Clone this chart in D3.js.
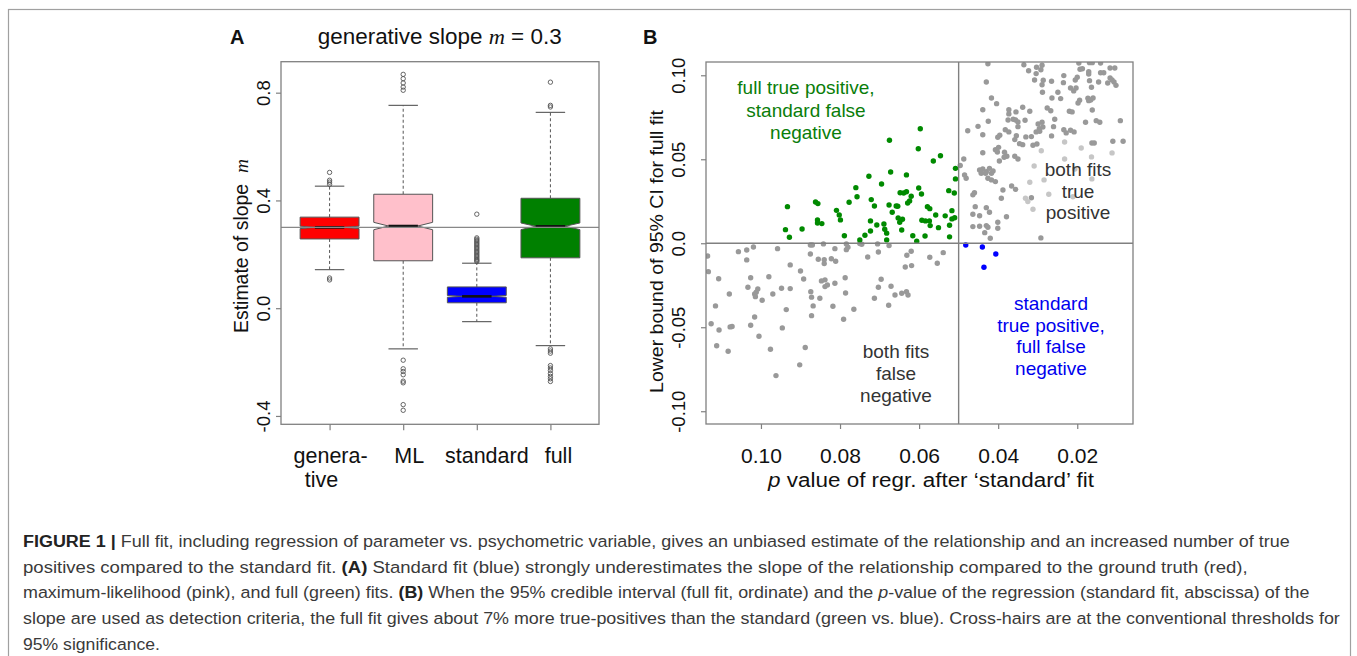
<!DOCTYPE html>
<html><head><meta charset="utf-8">
<script src="https://cdn.jsdelivr.net/npm/d3@7"></script>
<style>body{margin:0;background:#fff} svg{display:block} text{white-space:pre}</style>
</head><body>
<svg id="fig" width="1357" height="656"></svg>
<script>
// ---------------- DATA ----------------
// Panel A: boxplot of slope estimates
const boxCategories = ["genera-\ntive", "ML", "standard", "full"];
const boxLowerWhisker = [0.143, -0.151, -0.050, -0.139];
const boxQ1           = [0.257,  0.176,  0.020,  0.187];
const boxMedian       = [0.300,  0.305,  0.044,  0.304];
const boxQ3           = [0.338,  0.423,  0.079,  0.408];
const boxUpperWhisker = [0.453,  0.753,  0.167,  0.727];
const boxNotchHalf    = [0.0045, 0.0137, 0.0033, 0.0123];
const outliersGenerative = [0.504, 0.475, 0.468, 0.460, 0.112, 0.105];
const outliersML = [0.868, 0.852, 0.836, 0.821, 0.809, -0.193, -0.225, -0.235, -0.247, -0.271, -0.277, -0.358, -0.379];
const outliersStandard = [0.349, 0.261, 0.256, 0.251, 0.246, 0.241, 0.236, 0.231, 0.226, 0.221, 0.216, 0.211, 0.206, 0.201, 0.196, 0.191, 0.186, 0.181, 0.177, 0.173];
const outliersFull = [0.839, 0.753, 0.747, -0.151, -0.159, -0.167, -0.213, -0.222, -0.231, -0.243, -0.253, -0.262, -0.272];
const generativeSlope = 0.3;
const yTicksA = [-0.4, 0.0, 0.4, 0.8];
const yTickLabelsA = ["-0.4", "0.0", "0.4", "0.8"];

// Panel B: [p value of standard fit, lower bound of 95% CI of full fit]
const pThreshold = 0.05;
const ciThreshold = 0.0;
const xTicksB = [0.10, 0.08, 0.06, 0.04, 0.02];
const xTickLabelsB = ["0.10", "0.08", "0.06", "0.04", "0.02"];
const yTicksB = [0.10, 0.05, 0.0, -0.05, -0.10];
const yTickLabelsB = ["0.10", "0.05", "0.0", "-0.05", "-0.10"];

const greenPoints = [
[0.0597,0.0682],[0.0675,0.0613],[0.0602,0.0563],[0.0546,0.0521],[0.0564,0.0490],[0.0508,0.0446],[0.0672,0.0424],[0.0727,0.0399],
[0.0632,0.0407],[0.0508,0.0383],[0.0695,0.0353],[0.0760,0.0331],[0.0601,0.0329],[0.0525,0.0313],[0.0648,0.0301],[0.0639,0.0299],
[0.0632,0.0307],[0.0594,0.0293],[0.0511,0.0299],[0.0757,0.0277],[0.0620,0.0280],[0.0721,0.0260],[0.0777,0.0244],[0.0862,0.0246],
[0.0856,0.0236],[0.0624,0.0252],[0.0629,0.0240],[0.0933,0.0218],[0.0713,0.0222],[0.0676,0.0228],[0.0658,0.0222],[0.0654,0.0220],
[0.0579,0.0218],[0.0573,0.0206],[0.0809,0.0196],[0.0668,0.0185],[0.0517,0.0194],[0.0802,0.0168],[0.0558,0.0168],[0.0534,0.0163],
[0.0653,0.0151],[0.0642,0.0143],[0.0857,0.0139],[0.0799,0.0139],[0.0593,0.0137],[0.0584,0.0133],[0.0574,0.0133],[0.0510,0.0152],
[0.0517,0.0145],[0.0723,0.0133],[0.0857,0.0121],[0.0846,0.0117],[0.0649,0.0125],[0.0689,0.0115],[0.0707,0.0109],[0.0572,0.0105],
[0.0523,0.0107],[0.0938,0.0081],[0.0896,0.0085],[0.0687,0.0083],[0.0644,0.0079],[0.0551,0.0093],[0.0723,0.0073],[0.0682,0.0060],
[0.0928,0.0036],[0.0789,0.0045],[0.0737,0.0048],[0.0616,0.0045],[0.0585,0.0043],[0.0523,0.0038],[0.0750,0.0020],[0.0682,0.0020],
[0.0606,0.0012]
];
const bluePoints = [[0.0482,-0.0010],[0.0440,-0.0022],[0.0406,-0.0064],[0.0436,-0.0143]];
const grayPoints = [
// both fits false negative
[0.1135,-0.0076],[0.1133,-0.0169],[0.1057,-0.0050],[0.1036,-0.0040],[0.1019,-0.0022],[0.1036,-0.0099],[0.0958,-0.0032],[0.0875,-0.0010],
[0.0870,-0.0010],[0.0842,-0.0004],[0.0875,-0.0064],[0.0813,-0.0032],[0.0784,-0.0004],[0.0784,-0.0038],[0.0780,-0.0024],[0.0745,-0.0006],
[0.0750,-0.0002],[0.0705,-0.0004],[0.0676,-0.0014],[0.0703,-0.0052],[0.0730,-0.0082],[0.0855,-0.0095],[0.0840,-0.0098],[0.0840,-0.0121],
[0.0822,-0.0092],[0.0811,-0.0107],[0.0926,-0.0129],[0.0900,-0.0165],[0.0892,-0.0213],[0.0620,-0.0048],[0.0631,-0.0071],[0.0573,-0.0083],
[0.0539,-0.0056],[0.0554,-0.0119],[0.0619,-0.0133],[0.0635,-0.0141],[0.1107,-0.0211],[0.1026,-0.0205],[0.0980,-0.0199],[0.1033,-0.0262],
[0.1008,-0.0272],[0.1012,-0.0292],[0.1016,-0.0302],[0.1014,-0.0318],[0.1080,-0.0302],[0.0997,-0.0339],[0.0970,-0.0302],[0.0948,-0.0268],
[0.0926,-0.0270],[0.0847,-0.0224],[0.0838,-0.0218],[0.0832,-0.0248],[0.0838,-0.0258],[0.0813,-0.0238],[0.0787,-0.0205],[0.0874,-0.0288],
[0.0872,-0.0321],[0.0851,-0.0327],[0.0786,-0.0296],[0.0696,-0.0214],[0.0703,-0.0262],[0.0671,-0.0256],[0.0713,-0.0327],[0.0661,-0.0308],
[0.0644,-0.0298],[0.0632,-0.0288],[0.0628,-0.0308],[0.0677,-0.0369],[0.1115,-0.0373],[0.0868,-0.0373],[0.0818,-0.0375],[0.0765,-0.0393],
[0.0936,-0.0395],[0.1016,-0.0439],[0.0872,-0.0431],[0.0791,-0.0452],[0.1126,-0.0479],[0.1106,-0.0516],[0.1078,-0.0498],[0.1073,-0.0496],
[0.1026,-0.0488],[0.0946,-0.0504],[0.1005,-0.0554],[0.1112,-0.0610],[0.1083,-0.0643],[0.0976,-0.0631],[0.0888,-0.0621],[0.0902,-0.0724],
[0.0962,-0.0788],
// both fits true positive
[0.0426,0.1069],[0.0335,0.1063],[0.0323,0.1027],[0.0303,0.1048],[0.0289,0.1060],[0.0292,0.1033],[0.0304,0.1010],[0.0308,0.0972],
[0.0286,0.0970],[0.0289,0.0944],[0.0265,0.0964],[0.0196,0.1073],[0.0169,0.1075],[0.0162,0.1075],[0.0141,0.1073],[0.0193,0.1036],
[0.0187,0.1039],[0.0171,0.1021],[0.0171,0.1008],[0.0141,0.1015],[0.0133,0.1015],[0.0117,0.1043],[0.0105,0.1043],[0.0234,0.0998],
[0.0235,0.0956],[0.0205,0.0972],[0.0200,0.0988],[0.0217,0.0924],[0.0209,0.0907],[0.0203,0.0924],[0.0169,0.0968],[0.0164,0.0929],
[0.0146,0.0960],[0.0123,0.0954],[0.0117,0.0984],[0.0112,0.0972],[0.0107,0.0960],[0.0102,0.0940],[0.0430,0.0960],[0.0288,0.0899],
[0.0249,0.0899],[0.0264,0.0865],[0.0242,0.0861],[0.0194,0.0851],[0.0198,0.0835],[0.0173,0.0863],[0.0166,0.0853],[0.0160,0.0865],
[0.0171,0.0849],[0.0417,0.0865],[0.0404,0.0831],[0.0439,0.0795],[0.0373,0.0795],[0.0373,0.0770],[0.0355,0.0782],[0.0338,0.0810],
[0.0320,0.0786],[0.0276,0.0805],[0.0267,0.0789],[0.0220,0.0786],[0.0213,0.0782],[0.0162,0.0793],[0.0425,0.0726],[0.0375,0.0734],
[0.0362,0.0738],[0.0356,0.0734],[0.0350,0.0722],[0.0332,0.0732],[0.0289,0.0720],[0.0299,0.0710],[0.0257,0.0738],[0.0179,0.0720],
[0.0152,0.0730],[0.0143,0.0720],[0.0091,0.0730],[0.0477,0.0670],[0.0451,0.0696],[0.0439,0.0646],[0.0396,0.0643],[0.0401,0.0631],
[0.0382,0.0676],[0.0373,0.0663],[0.0354,0.0640],[0.0350,0.0694],[0.0358,0.0617],[0.0346,0.0593],[0.0338,0.0587],[0.0330,0.0633],
[0.0316,0.0635],[0.0304,0.0663],[0.0296,0.0682],[0.0287,0.0692],[0.0295,0.0667],[0.0265,0.0639],[0.0260,0.0694],[0.0234,0.0676],
[0.0228,0.0657],[0.0217,0.0673],[0.0208,0.0663],[0.0312,0.0583],[0.0302,0.0591],[0.0163,0.0597],[0.0157,0.0597],[0.0110,0.0607],
[0.0084,0.0607],[0.0407,0.0557],[0.0399,0.0571],[0.0402,0.0543],[0.0384,0.0542],[0.0378,0.0518],[0.0385,0.0512],[0.0358,0.0518],
[0.0350,0.0502],[0.0439,0.0539],[0.0487,0.0502],[0.0397,0.0490],[0.0496,0.0463],[0.0481,0.0387],[0.0485,0.0407],[0.0447,0.0436],
[0.0439,0.0442],[0.0430,0.0426],[0.0443,0.0417],[0.0432,0.0417],[0.0422,0.0446],[0.0417,0.0417],[0.0413,0.0430],[0.0426,0.0387],
[0.0417,0.0377],[0.0407,0.0367],[0.0366,0.0341],[0.0356,0.0321],[0.0388,0.0317],[0.0392,0.0268],[0.0460,0.0301],[0.0464,0.0288],
[0.0316,0.0271],[0.0458,0.0218],[0.0430,0.0212],[0.0422,0.0185],[0.0464,0.0173],[0.0447,0.0164],[0.0379,0.0158],[0.0464,0.0099],
[0.0447,0.0101],[0.0430,0.0105],[0.0426,0.0095],[0.0401,0.0125],[0.0401,0.0089],[0.0434,0.0063],[0.0420,0.0030],[0.0292,0.0032]
];
const grayLightPoints = [
[0.0232,0.0603],[0.0190,0.0567],[0.0291,0.0551],[0.0112,0.0538],[0.0164,0.0514],[0.0232,0.0502],[0.0309,0.0460],[0.0320,0.0363],
[0.0284,0.0377],[0.0331,0.0268],[0.0325,0.0248],[0.0272,0.0292],[0.0312,0.0202],[0.0206,0.0442],[0.0163,0.0383],[0.0211,0.0277]
];

// ---------------- DRAWING ----------------
const SANS = "'Liberation Sans', Arial, Helvetica, sans-serif";
const SERIF = "'Liberation Serif', 'Times New Roman', serif";
const NARROW = "'Liberation Sans Narrow', 'Liberation Sans', Arial, sans-serif";
const svg = d3.select("#fig");
svg.append("rect").attr("width", 1357).attr("height", 656).attr("fill", "#fff");
// figure frame
svg.append("rect").attr("x", 8.5).attr("y", 9.5).attr("width", 1342).attr("height", 670)
  .attr("fill", "none").attr("stroke", "#a0a0a0").attr("stroke-width", 1.2);

function fitText(sel, target) {
  const w = sel.node().getComputedTextLength();
  if (w > 0) sel.attr("transform", `scale(${target / w},1)`);
}

// ---------- Panel A ----------
const A = {left: 281, right: 599, top: 61.7, bottom: 424.3};
const xA = d3.scaleLinear().domain([0.34, 4.66]).range([A.left, A.right]);
const yA = d3.scaleLinear().domain([-0.431, 0.915]).range([A.bottom, A.top]);
const boxFill = ["#ff0000", "#ffc0cb", "#0000ff", "#008000"];
const outlierSets = [outliersGenerative, outliersML, outliersStandard, outliersFull];
const gA = svg.append("g");
const halfW = xA(1.4) - xA(1);
boxCategories.forEach((cat, i) => {
  const cx = xA(i + 1);
  const g = gA.append("g");
  // whiskers
  g.append("line").attr("x1", cx).attr("x2", cx).attr("y1", yA(boxQ3[i])).attr("y2", yA(boxUpperWhisker[i]))
    .attr("stroke", "#555").attr("stroke-dasharray", "3,2.5").attr("stroke-width", 1);
  g.append("line").attr("x1", cx).attr("x2", cx).attr("y1", yA(boxQ1[i])).attr("y2", yA(boxLowerWhisker[i]))
    .attr("stroke", "#555").attr("stroke-dasharray", "3,2.5").attr("stroke-width", 1);
  [boxUpperWhisker[i], boxLowerWhisker[i]].forEach(v => {
    g.append("line").attr("x1", cx - halfW / 2).attr("x2", cx + halfW / 2).attr("y1", yA(v)).attr("y2", yA(v))
      .attr("stroke", "#555").attr("stroke-width", 1.1);
  });
  // notched box
  const lo = boxMedian[i] - boxNotchHalf[i], hi = boxMedian[i] + boxNotchHalf[i];
  const pts = [
    [cx - halfW, yA(boxQ1[i])], [cx + halfW, yA(boxQ1[i])], [cx + halfW, yA(lo)], [cx + halfW * 0.5, yA(boxMedian[i])],
    [cx + halfW, yA(hi)], [cx + halfW, yA(boxQ3[i])], [cx - halfW, yA(boxQ3[i])], [cx - halfW, yA(hi)],
    [cx - halfW * 0.5, yA(boxMedian[i])], [cx - halfW, yA(lo)]
  ];
  g.append("polygon").attr("points", pts.map(p => p.join(",")).join(" "))
    .attr("fill", boxFill[i]).attr("stroke", "#555").attr("stroke-width", 1);
  g.append("line").attr("x1", cx - halfW * 0.5).attr("x2", cx + halfW * 0.5)
    .attr("y1", yA(boxMedian[i])).attr("y2", yA(boxMedian[i])).attr("stroke", "#111").attr("stroke-width", 2.6);
  // outliers
  g.selectAll("circle").data(outlierSets[i]).join("circle")
    .attr("cx", cx).attr("cy", d => yA(d)).attr("r", 2.2)
    .attr("fill", "none").attr("stroke", "#555").attr("stroke-width", 0.9);
});
// generative slope line
gA.append("line").attr("x1", A.left).attr("x2", A.right).attr("y1", yA(generativeSlope)).attr("y2", yA(generativeSlope))
  .attr("stroke", "#888").attr("stroke-width", 1.3);
// frame
gA.append("rect").attr("x", A.left).attr("y", A.top).attr("width", A.right - A.left).attr("height", A.bottom - A.top)
  .attr("fill", "none").attr("stroke", "#808080").attr("stroke-width", 1.3);
// y axis
const yAxisA = gA.append("g").attr("transform", `translate(${A.left},0)`)
  .call(d3.axisLeft(yA).tickValues(yTicksA).tickSize(5).tickFormat((d, i) => yTickLabelsA[i]));
yAxisA.select(".domain").remove();
yAxisA.selectAll(".tick line").attr("stroke", "#808080").attr("stroke-width", 1.2);
yAxisA.selectAll(".tick text").attr("transform", "rotate(-90)").attr("x", 0).attr("y", -11).attr("dy", 0)
  .attr("text-anchor", "middle").attr("font-family", SANS).attr("font-size", 18.5).attr("fill", "#111");
// x ticks
const xAxisA = gA.append("g").attr("transform", `translate(0,${A.bottom})`)
  .call(d3.axisBottom(xA).tickValues([1, 2, 3, 4]).tickSize(6).tickFormat(""));
xAxisA.select(".domain").remove();
xAxisA.selectAll(".tick line").attr("stroke", "#808080").attr("stroke-width", 1.2);
const labelNudge = [[1, -8], [6], [10], [8]];
boxCategories.forEach((cat, i) => {
  cat.split("\n").forEach((line, j) => {
    gA.append("text").attr("x", xA(i + 1) + labelNudge[i][j]).attr("y", 463 + j * 24)
      .attr("text-anchor", "middle").attr("font-family", SANS).attr("font-size", 21.5).attr("fill", "#111").text(line);
  });
});
// y label
const ylA = gA.append("g").attr("transform", "translate(248,246) rotate(-90)")
  .append("text").attr("text-anchor", "middle").attr("font-family", SANS).attr("font-size", 19.5).attr("fill", "#111");
ylA.append("tspan").text("Estimate of slope  ");
ylA.append("tspan").attr("font-family", SERIF).attr("font-style", "italic").text("m");
fitText(ylA, 174);
// title
const tA = gA.append("g").attr("transform", "translate(439.7,44)")
  .append("text").attr("text-anchor", "middle").attr("font-family", SANS).attr("font-size", 22).attr("fill", "#111");
tA.append("tspan").text("generative slope ");
tA.append("tspan").attr("font-family", SERIF).attr("font-style", "italic").text("m");
tA.append("tspan").text(" = 0.3");
fitText(tA, 244);
gA.append("text").attr("x", 230).attr("y", 43.5).attr("font-family", SANS).attr("font-weight", "bold")
  .attr("font-size", 20).attr("fill", "#111").text("A");

// ---------- Panel B ----------
const B = {left: 706, right: 1133, top: 62, bottom: 424};
const xB = d3.scaleLinear().domain([0.1139, 0.0059]).range([B.left, B.right]);
const yB = d3.scaleLinear().domain([-0.1076, 0.1079]).range([B.bottom, B.top]);
const gB = svg.append("g");
svg.append("defs").append("clipPath").attr("id", "clipB").append("rect")
  .attr("x", B.left).attr("y", B.top).attr("width", B.right - B.left).attr("height", B.bottom - B.top);
const pts = gB.append("g").attr("clip-path", "url(#clipB)");
const series = [
  {data: grayPoints, color: "#999999"},
  {data: grayLightPoints, color: "#c6c6c6"},
  {data: greenPoints, color: "#008a00"},
  {data: bluePoints, color: "#0000ff"}
];
series.forEach(s => {
  pts.append("g").selectAll("circle").data(s.data).join("circle")
    .attr("cx", d => xB(d[0])).attr("cy", d => yB(d[1])).attr("r", 2.7).attr("fill", s.color);
});
// cross-hairs
gB.append("line").attr("x1", xB(pThreshold)).attr("x2", xB(pThreshold)).attr("y1", B.top).attr("y2", B.bottom)
  .attr("stroke", "#808080").attr("stroke-width", 1.4);
gB.append("line").attr("x1", B.left).attr("x2", B.right).attr("y1", yB(ciThreshold)).attr("y2", yB(ciThreshold))
  .attr("stroke", "#808080").attr("stroke-width", 1.4);
gB.append("rect").attr("x", B.left).attr("y", B.top).attr("width", B.right - B.left).attr("height", B.bottom - B.top)
  .attr("fill", "none").attr("stroke", "#808080").attr("stroke-width", 1.3);
const xAxisB = gB.append("g").attr("transform", `translate(0,${B.bottom})`)
  .call(d3.axisBottom(xB).tickValues(xTicksB).tickSize(5).tickPadding(0).tickFormat((d, i) => xTickLabelsB[i]));
xAxisB.select(".domain").remove();
xAxisB.selectAll(".tick line").attr("stroke", "#808080").attr("stroke-width", 1.2);
xAxisB.selectAll(".tick text").attr("y", 39.3).attr("dy", 0).attr("font-family", SANS).attr("font-size", 21).attr("fill", "#111");
const yAxisB = gB.append("g").attr("transform", `translate(${B.left},0)`)
  .call(d3.axisLeft(yB).tickValues(yTicksB).tickSize(5).tickFormat((d, i) => yTickLabelsB[i]));
yAxisB.select(".domain").remove();
yAxisB.selectAll(".tick line").attr("stroke", "#808080").attr("stroke-width", 1.2);
yAxisB.selectAll(".tick text").attr("transform", "rotate(-90)").attr("x", 0).attr("y", -21).attr("dy", 0)
  .attr("text-anchor", "middle").attr("font-family", SANS).attr("font-size", 18.5).attr("fill", "#111");
// axis labels
const xlB = gB.append("g").attr("transform", "translate(931,487)")
  .append("text").attr("text-anchor", "middle").attr("font-family", SANS).attr("font-size", 21).attr("fill", "#111");
xlB.append("tspan").attr("font-style", "italic").text("p");
xlB.append("tspan").text(" value of regr. after \u2018standard\u2019 fit");
fitText(xlB, 326);
const ylB = gB.append("g").attr("transform", "translate(663,251.5) rotate(-90)")
  .append("text").attr("text-anchor", "middle").attr("font-family", SANS).attr("font-size", 19).attr("fill", "#111")
  .text("Lower bound of 95% CI for full fit");
fitText(ylB, 283);
gB.append("text").attr("x", 643).attr("y", 44).attr("font-family", SANS).attr("font-weight", "bold")
  .attr("font-size", 20).attr("fill", "#111").text("B");
// region annotations
const regionLabels = [
  {lines: ["full true positive,", "standard false", "negative"], x: 806, y: [94, 116.5, 139], color: "#0a7d0a"},
  {lines: ["both fits", "true", "positive"], x: 1078, y: [176, 197.5, 219], color: "#333"},
  {lines: ["both fits", "false", "negative"], x: 896, y: [358, 380, 401.5], color: "#333"},
  {lines: ["standard", "true positive,", "full false", "negative"], x: 1051, y: [310, 331.5, 353, 374.5], color: "#0000ee"}
];
regionLabels.forEach(r => r.lines.forEach((l, j) => {
  gB.append("text").attr("x", r.x).attr("y", r.y[j]).attr("text-anchor", "middle").attr("font-family", SANS)
    .attr("font-size", 19).attr("fill", r.color).text(l);
}));

// ---------- Caption ----------
const captionLines = [
  [["FIGURE 1 | ", "b"], ["Full fit, including regression of parameter vs. psychometric variable, gives an unbiased estimate of the relationship and an increased number of true", ""]],
  [["positives compared to the standard fit. ", ""], ["(A)", "b"], [" Standard fit (blue) strongly underestimates the slope of the relationship compared to the ground truth (red),", ""]],
  [["maximum-likelihood (pink), and full (green) fits. ", ""], ["(B)", "b"], [" When the 95% credible interval (full fit, ordinate) and the ", ""], ["p", "i"], ["-value of the regression (standard fit, abscissa) of the", ""]],
  [["slope are used as detection criteria, the full fit gives about 7% more true-positives than the standard (green vs. blue). Cross-hairs are at the conventional thresholds for", ""]],
  [["95% significance.", ""]]
];
const captionWidths = [1268, 1226, 1287, 1318, 137];
captionLines.forEach((line, k) => {
  const t = svg.append("g").attr("transform", `translate(23,${547 + k * 25.7})`)
    .append("text").attr("font-family", NARROW).attr("font-size", 17).attr("fill", "#3a3a3a");
  line.forEach(([s, st]) => {
    const ts = t.append("tspan").text(s);
    if (st === "b") ts.attr("font-weight", "bold").attr("fill", "#222");
    if (st === "i") ts.attr("font-style", "italic");
  });
  fitText(t, captionWidths[k]);
});
</script>
</body></html>
